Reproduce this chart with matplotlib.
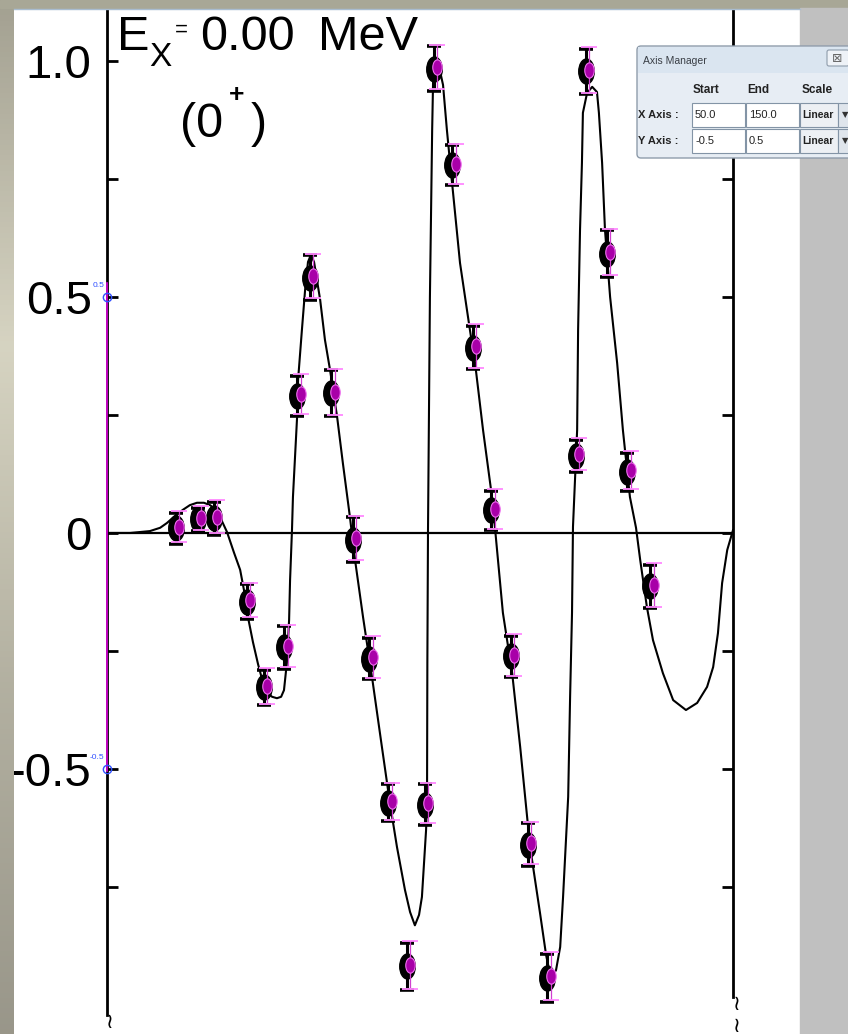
import numpy as np
import matplotlib.pyplot as plt
from matplotlib.path import Path
from matplotlib.transforms import Affine2D, offset_copy
from matplotlib.patches import Rectangle, FancyBboxPatch

# theory curve (angle in deg, analyzing power)
theory_deg = [2.2, 9.4, 15.6, 18.8, 20.9, 23.4, 25.9, 28.1, 30.3, 32.5,
              34.4, 35.9, 37.5, 39.7, 41.9, 43.8, 45.0, 46.3, 47.8, 49.4,
              50.9, 52.2, 53.8, 55.3, 56.6, 57.5, 58.4, 59.1, 59.4, 60.0,
              60.3, 61.6, 61.9, 63.1, 64.1, 65.0, 65.9, 66.9, 67.8, 68.8,
              70.3, 71.9, 74.1, 75.9, 78.1, 79.7, 82.2, 85.0, 87.8, 90.6,
              92.8, 95.3, 96.9, 98.4, 99.7, 100.6, 101.9, 102.2, 102.3, 102.5,
              103.1, 103.8, 104.1, 105.0, 106.3, 107.2, 108.4, 109.4, 112.5, 115.6,
              117.2, 119.7, 122.5, 123.4, 125.9, 128.8, 131.3, 134.4, 137.5, 139.4,
              140.9, 142.5, 143.8, 144.7, 146.3, 146.9, 147.5, 147.8, 149.1, 149.4,
              150.0, 150.6, 150.9, 152.2, 153.8, 155.3, 155.9, 156.9, 157.8, 159.4,
              161.6, 163.4, 165.6, 167.5, 168.8, 170.9, 172.8, 175.9, 179.1, 183.1,
              186.6, 189.7, 191.6, 193.1, 194.4, 196.0, 197.8]
theory_val = [0, 0, 0.004, 0.011, 0.021, 0.036, 0.049, 0.059, 0.064, 0.064,
              0.059, 0.051, 0.034, 0.002, -0.042, -0.078, -0.121, -0.180, -0.231, -0.278,
              -0.316, -0.339, -0.347, -0.350, -0.347, -0.333, -0.275, -0.184, -0.100, 0.006,
              0.076, 0.246, 0.324, 0.430, 0.515, 0.574, 0.589, 0.574, 0.536, 0.494,
              0.409, 0.345, 0.246, 0.148, 0.034, -0.057, -0.178, -0.305, -0.439, -0.572,
              -0.665, -0.756, -0.803, -0.831, -0.809, -0.771, -0.629, -0.559, -0.275, 0.006,
              0.500, 0.854, 0.960, 0.998, 0.977, 0.949, 0.854, 0.784, 0.572, 0.430,
              0.360, 0.218, 0.076, 0.013, -0.169, -0.297, -0.453, -0.665, -0.805, -0.894,
              -0.943, -0.926, -0.877, -0.771, -0.559, -0.347, -0.169, 0.013, 0.218, 0.430,
              0.642, 0.784, 0.890, 0.932, 0.945, 0.934, 0.890, 0.784, 0.642, 0.500,
              0.360, 0.218, 0.076, 0.011, -0.057, -0.157, -0.227, -0.297, -0.354, -0.375,
              -0.360, -0.326, -0.284, -0.212, -0.106, -0.036, 0.006]

# measured points
angle = [24.4, 31.3, 36.3, 46.6, 51.9, 58.4, 62.5, 66.3, 73.1, 79.7, 85.0, 90.9, 96.6,
         102.2, 105.0, 110.9, 117.2, 123.1, 129.1, 134.4, 140.6, 149.4, 152.5, 159.1,
         165.6, 172.8]
ay = [0.013, 0.032, 0.034, -0.142, -0.324, -0.239, 0.294, 0.544, 0.299, -0.011, -0.263,
      -0.568, -0.915, -0.572, 0.987, 0.782, 0.396, 0.051, -0.258, -0.657, -0.939, 0.167,
      0.981, 0.595, 0.133, -0.110]
ay_err = [0.033, 0.025, 0.035, 0.037, 0.038, 0.045, 0.042, 0.047, 0.049, 0.047, 0.044,
          0.039, 0.050, 0.043, 0.047, 0.042, 0.046, 0.042, 0.044, 0.045, 0.051, 0.034,
          0.048, 0.049, 0.040, 0.046]

yticks_major = [-0.5, 0, 0.5, 1.0]
yticklabels = ['-0.5', '0', '0.5', '1.0']
yticks_minor = [-0.75, -0.25, 0.25, 0.75]
xticks = [30, 90]
xticklabels = ['30', '90']

plt.rcParams['font.family'] = ['Liberation Sans', 'DejaVu Sans']

W, H = 848, 1034
fig = plt.figure(figsize=(W / 100, H / 100), dpi=100)
fig.patch.set_facecolor('white')

ax = fig.add_axes([107 / W, 1 - 1015 / H, (733 - 107) / W, (1015 - 8) / H], zorder=1)
ax.set_xlim(2.2, 197.8)
ax.set_ylim(-1.021, 1.112)
ax.set_facecolor('white')
for s in ['top', 'bottom']:
    ax.spines[s].set_visible(False)
for s in ['left', 'right']:
    ax.spines[s].set_linewidth(2.0)
ax.spines['right'].set_bounds(-0.983, 1.112)

ax.set_yticks(yticks_major)
ax.set_yticklabels(yticklabels, fontsize=34)
ax.set_yticks(yticks_minor, minor=True)
ax.tick_params(axis='y', which='both', direction='in', length=8, width=2,
               left=True, right=True, pad=11)
ax.set_xticks(xticks)
ax.set_xticklabels(xticklabels, fontsize=34)
ax.tick_params(axis='x', bottom=False, pad=11)

# zero line and theory
ax.axhline(0, color='black', lw=1.6, zorder=2)
ax.plot(theory_deg, theory_val, color='black', lw=1.5, zorder=2)

# scanned black symbols, slightly shifted from the digitized magenta ones
ellipse = Affine2D().scale(0.62, 1.0).transform_path(Path.unit_circle())
tb = offset_copy(ax.transData, fig=fig, x=-2.5, y=-1.5, units='dots')
lo = [v - e for v, e in zip(ay, ay_err)]
hi = [v + e for v, e in zip(ay, ay_err)]
ax.vlines(angle, lo, hi, colors='black', lw=2.2, transform=tb, zorder=3)
ax.plot(angle, lo, ls='none', marker='_', ms=10, mew=2.6, color='black', transform=tb, zorder=3)
ax.plot(angle, hi, ls='none', marker='_', ms=10, mew=2.6, color='black', transform=tb, zorder=3)
ax.plot(angle, ay, ls='none', marker=ellipse, ms=18, color='black', transform=tb, zorder=3)

tm = offset_copy(ax.transData, fig=fig, x=1.0, y=0, units='dots')
ax.vlines(angle, lo, hi, colors='#d040d0', lw=0.9, transform=tm, zorder=4)
ax.plot(angle, lo, ls='none', marker='_', ms=11, mew=1.3, color='#ff88ff', transform=tm, zorder=4)
ax.plot(angle, hi, ls='none', marker='_', ms=11, mew=1.3, color='#ff88ff', transform=tm, zorder=4)
ax.plot(angle, ay, ls='none', marker=ellipse, ms=11, mfc='#a800a8', mec='#f070f0', mew=0.8,
        transform=tm, zorder=4)

# calibration marks of the digitizer
x0 = ax.get_xlim()[0]
ax.plot([x0, x0], [0.53, -0.505], color='#e000e0', lw=1.2, clip_on=False, zorder=5)
ax.plot([x0, x0], [0.5, -0.5], ls='none', marker='o', ms=6, mfc='none', mec='#3050ff',
        mew=1, clip_on=False, zorder=5)
for v, t in zip([0.5, -0.5], ['0.5', '-0.5']):
    ax.annotate(t, (x0, v), xytext=(-2, 6), textcoords='offset points', ha='right',
                va='bottom', fontsize=6, color='#3050ff', annotation_clip=False)

# overlay in pixel coordinates: labels, screen frame, dialog
ov = fig.add_axes([0, 0, 1, 1], zorder=5)
ov.axis('off')
ov.patch.set_alpha(0)

ov.text(117, 50, 'E', fontsize=35, va='baseline', ha='left')
ov.text(149, 66, 'X', fontsize=24, va='baseline', ha='left')
ov.text(175, 30, '=', fontsize=16, va='center', ha='left')
ov.text(200, 50, '0.00', fontsize=35, va='baseline', ha='left')
ov.text(318, 50, 'MeV', fontsize=35, va='baseline', ha='left')
ov.text(180, 137, '(0', fontsize=35, va='baseline', ha='left')
ov.text(229, 102, '+', fontsize=19, va='baseline', ha='left', fontweight='bold')
ov.text(251, 137, ')', fontsize=35, va='baseline', ha='left')

# axis-break squiggles
ov.text(110, 1022, '\u2240', fontsize=15, ha='center', va='center', family='DejaVu Sans')
ov.text(737, 1004, '\u2240', fontsize=15, ha='center', va='center', family='DejaVu Sans')
ov.text(737, 1026, '\u2240', fontsize=15, ha='center', va='center', family='DejaVu Sans')

# screen frame
grad = np.array([[0.64, 0.63, 0.57], [0.84, 0.83, 0.76], [0.70, 0.69, 0.63], [0.60, 0.59, 0.54]])
stops = np.linspace(0, 1, len(grad))
yy = np.linspace(0, 1, 200)
col = np.stack([np.interp(yy, stops, grad[:, i]) for i in range(3)], axis=1)[:, None, :]
ov.imshow(col, extent=(0, 14, H, 0), aspect='auto', zorder=1)
ov.add_patch(Rectangle((0, 0), W, 8, color='#a8a796', zorder=1))
ov.add_patch(Rectangle((800, 8), 48, H, color='#c0c0c0', zorder=1))
ov.plot([14, 800], [8.5, 8.5], color='#a8bcd0', lw=1, zorder=1)
ov.set_xlim(0, W)
ov.set_ylim(H, 0)

# Axis Manager dialog
ov.add_patch(FancyBboxPatch((637, 46), 220, 112, boxstyle='round,pad=0,rounding_size=4',
                            fc='#e7edf4', ec='#8e9cab', lw=1, zorder=3))
ov.add_patch(Rectangle((638, 47), 215, 26, fc='#dae5f0', ec='none', zorder=3))
ov.text(643, 61, 'Axis Manager', fontsize=7.5, color='#3a3f46', va='center', zorder=4)
ov.add_patch(FancyBboxPatch((827, 50), 22, 16, boxstyle='round,pad=0,rounding_size=2',
                            fc='#eef2f7', ec='#8e9cab', lw=0.8, zorder=4))
ov.text(837, 58, '\u22a0', fontsize=9, color='#666666', ha='center', va='center',
        family='DejaVu Sans', zorder=5)
for xh, t in zip([693, 747, 802], ['Start', 'End', 'Scale']):
    ov.text(xh, 90, t, fontsize=8.5, fontweight='bold', color='#222222', va='center', zorder=4)
for yr, lab, a, b in [(103, 'X Axis :', '50.0', '150.0'), (129, 'Y Axis :', '-0.5', '0.5')]:
    ov.text(638, yr + 12, lab, fontsize=8, fontweight='bold', color='#222222', va='center', zorder=4)
    ov.add_patch(Rectangle((692, yr), 53, 24, fc='white', ec='#8394a6', lw=0.8, zorder=4))
    ov.add_patch(Rectangle((746, yr), 53, 24, fc='white', ec='#8394a6', lw=0.8, zorder=4))
    ov.add_patch(Rectangle((800, yr), 38, 24, fc='#edf0f4', ec='#8394a6', lw=0.8, zorder=4))
    ov.add_patch(Rectangle((838, yr), 14, 24, fc='#dfe5ec', ec='#8394a6', lw=0.8, zorder=4))
    ov.text(695, yr + 12, a, fontsize=8, color='#222222', va='center', zorder=5)
    ov.text(749, yr + 12, b, fontsize=8, color='#222222', va='center', zorder=5)
    ov.text(802, yr + 12, 'Linear', fontsize=7.5, fontweight='bold', color='#222222',
            va='center', zorder=5)
    ov.text(845, yr + 12, '\u25bc', fontsize=6, color='#333333', ha='center', va='center',
            family='DejaVu Sans', zorder=5)

fig.savefig('out.png', dpi=100)
